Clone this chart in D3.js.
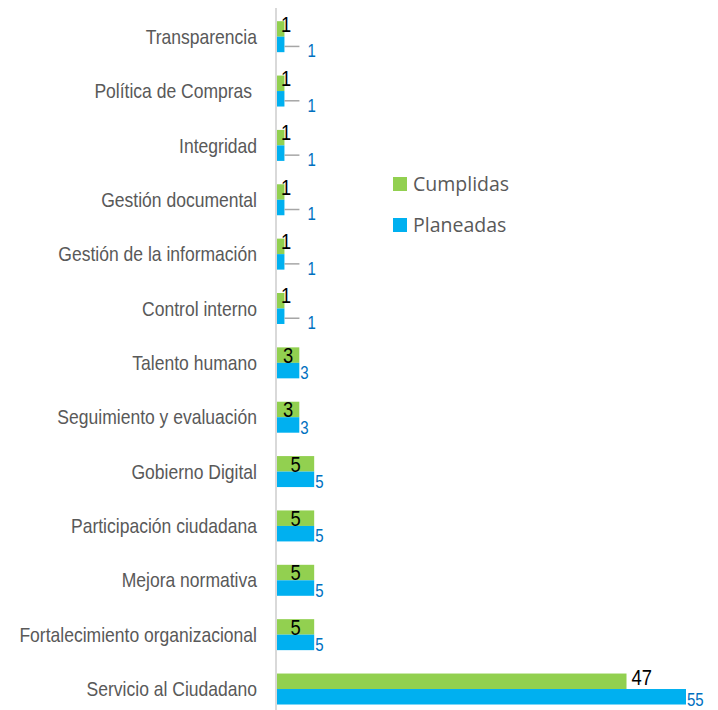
<!DOCTYPE html>
<html>
<head>
<meta charset="utf-8">
<script src="https://cdn.jsdelivr.net/npm/d3@7/dist/d3.min.js"></script>
<style>
  body { margin: 0; background: #fff; }
</style>
</head>
<body>
<div id="chart"></div>
<script>
// categories, top to bottom
var categories = ["Transparencia", "Política de Compras ", "Integridad", "Gestión documental",
  "Gestión de la información", "Control interno", "Talento humano", "Seguimiento y evaluación",
  "Gobierno Digital", "Participación ciudadana", "Mejora normativa",
  "Fortalecimiento organizacional", "Servicio al Ciudadano"];
var cumplidas = [1, 1, 1, 1, 1, 1, 3, 3, 5, 5, 5, 5, 47];
var planeadas = [1, 1, 1, 1, 1, 1, 3, 3, 5, 5, 5, 5, 55];
var seriesNames = ["Cumplidas", "Planeadas"];
var seriesColors = ["#92d050", "#00b0f0"];

var w = 718, h = 710;
// no narrow font installed, so squeeze Liberation Sans horizontally
var narrowFont = '"Liberation Sans", Arial, sans-serif';
var squeeze = 0.835;

var svg = d3.select("#chart").append("svg")
  .attr("width", w)
  .attr("height", h);

var x = d3.scaleLinear().domain([0, 55]).range([277, 686]);
var y = d3.scaleBand().domain(categories).range([9.5, 716.2])
  .paddingInner(0.43).paddingOuter(0.215);
var ySub = d3.scaleBand().domain(seriesNames).range([0, y.bandwidth()]);

var rows = categories.map(function(c, i) {
  return { cat: c, vals: [cumplidas[i], planeadas[i]] };
});

// place a narrow text at px,py
function narrowText(txt, px, py, size, color, anchor) {
  return svg.append("text")
    .text(txt)
    .attr("transform", "translate(" + px + "," + py + ") scale(" + squeeze + ",1)")
    .attr("text-anchor", anchor || "start")
    .attr("fill", color)
    .style("font-family", narrowFont)
    .style("font-size", size + "px");
}

// bars
rows.forEach(function(r) {
  seriesNames.forEach(function(s, j) {
    svg.append("rect")
      .attr("x", x(0))
      .attr("y", y(r.cat) + ySub(s))
      .attr("width", x(r.vals[j]) - x(0))
      .attr("height", ySub.bandwidth())
      .attr("fill", seriesColors[j]);
  });
});

// vertical axis with category names
var axis = svg.append("g")
  .attr("transform", "translate(" + 276 + ",0)")
  .call(d3.axisLeft(y).tickSize(0).tickPadding(0));
axis.select(".domain").attr("stroke", "#d9d9d9").attr("stroke-width", 2)
  .attr("d", "M0,8V710");
axis.selectAll("text")
  .attr("x", 0)
  .attr("dy", "0.34em")
  .attr("transform", "translate(-19,0) scale(" + squeeze + ",1)")
  .attr("fill", "#595959")
  .style("white-space", "pre")
  .style("font-family", narrowFont)
  .style("font-size", "21px");

// labels for Cumplidas (black)
rows.forEach(function(r) {
  var v = r.vals[0];
  var bottom = y(r.cat) + ySub("Cumplidas") + ySub.bandwidth();
  if (v >= 10) {
    narrowText(v, x(v) + 5, bottom - 4, 22, "#000", "start");
  } else {
    var mid = Math.max((x(0) + x(v)) / 2, x(0) + 9);
    narrowText(v, mid, v < 2 ? bottom - 5 : bottom, 22, "#000", "middle");
  }
});

// labels for Planeadas (blue), small ones with a leader line
rows.forEach(function(r) {
  var v = r.vals[1];
  var top = y(r.cat) + ySub("Planeadas");
  var bottom = top + ySub.bandwidth();
  if (x(v) - x(0) < 10) {
    svg.append("path")
      .attr("d", "M" + x(v) + "," + (top + ySub.bandwidth() / 2 + 2) + "H" + (x(v) + 15))
      .attr("stroke", "#a6a6a6")
      .attr("stroke-width", 1.5)
      .attr("fill", "none");
    narrowText(v, x(v) + 23, bottom + 5, 18, "#0070c0");
  } else {
    narrowText(v, x(v) + 1, bottom + 1, 18, "#0070c0");
  }
});

// legend
var legend = svg.append("g").attr("transform", "translate(393,177)");
seriesNames.forEach(function(s, i) {
  var g = legend.append("g").attr("transform", "translate(0," + (i * 41) + ")");
  g.append("rect").attr("width", 14).attr("height", 14).attr("fill", seriesColors[i]);
  g.append("text")
    .attr("x", 20)
    .attr("y", 14)
    .attr("fill", "#595959")
    .style("font-family", '"Open Sans", "Noto Sans", sans-serif')
    .style("font-size", "19.5px")
    .text(s);
});
</script>
</body>
</html>
